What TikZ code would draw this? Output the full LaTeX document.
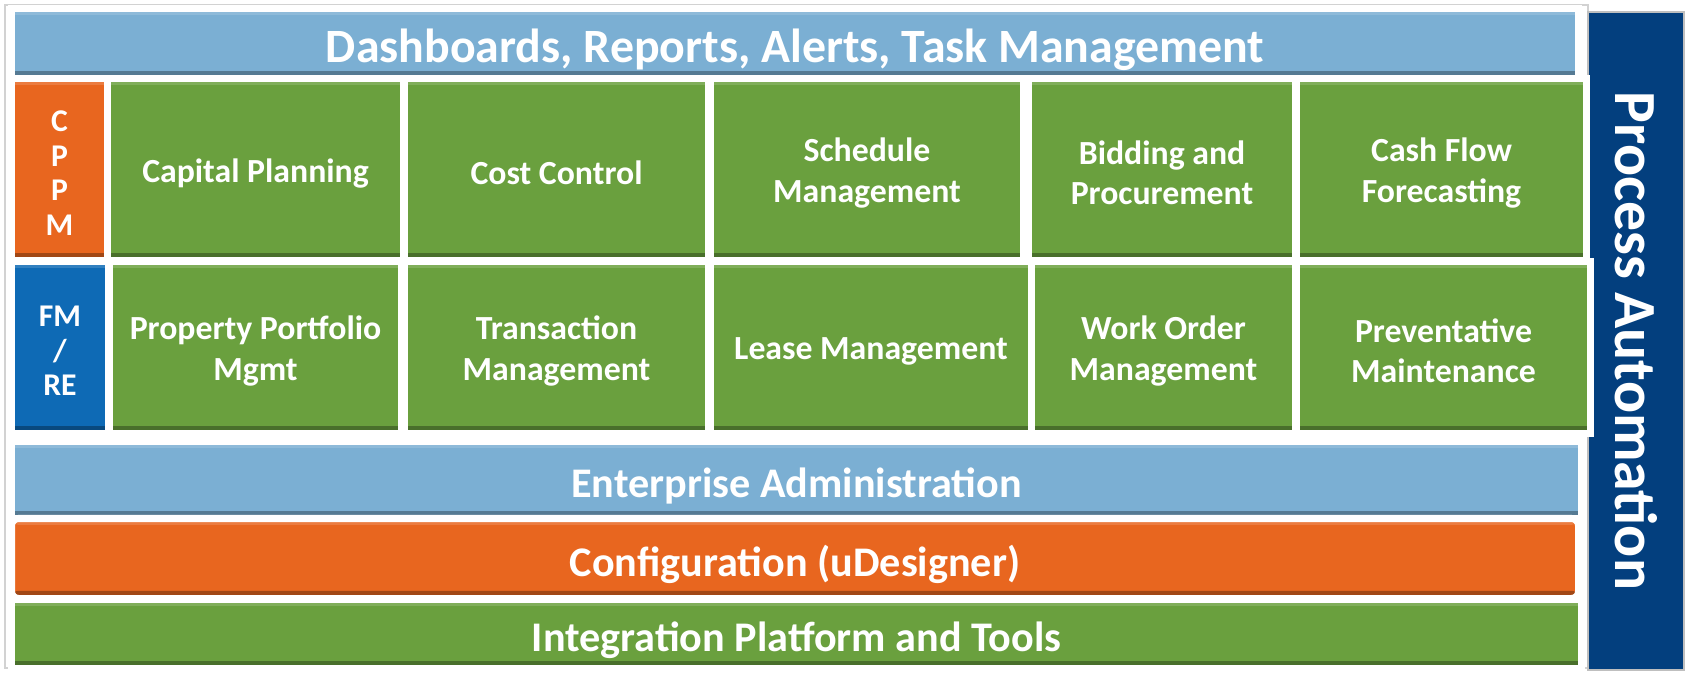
\documentclass[tikz,border=0pt]{standalone}
\usepackage{fontspec}
\setmainfont{Carlito}
\usetikzlibrary{fit}
\definecolor{modgreen}{HTML}{6AA03E}
\definecolor{modorange}{HTML}{E8661F}
\definecolor{modblue}{HTML}{0E6AB5}
\definecolor{layerblue}{HTML}{7BAFD3}
\definecolor{navy}{HTML}{033F7E}
\tikzstyle{frame}=[draw=gray!35, fill=white, line width=0.6pt, inner sep=0]
\tikzstyle{box}=[draw=white, line width=2pt, inner sep=1pt,
  path picture={
    \fill[black, opacity=0.3] (path picture bounding box.south west) rectangle ([yshift=2.2pt]path picture bounding box.south east);
    \fill[white, opacity=0.15] (path picture bounding box.north west) rectangle ([yshift=-1.8pt]path picture bounding box.north east);
  }]
\tikzstyle{boxtext}=[text=white, align=center, inner sep=0]
\tikzstyle{module}=[box, fill=modgreen]
\tikzstyle{modtext}=[boxtext, yshift=-1pt, font=\bfseries\fontsize{9.6}{11.5}\selectfont]
\tikzstyle{tagtext}=[boxtext, yshift=-1pt, font=\bfseries\fontsize{9}{9.8}\selectfont]
\tikzstyle{layertext}=[boxtext, yshift=-1.8pt, font=\bfseries\fontsize{12}{14}\selectfont]
\begin{document}
\begin{tikzpicture}[x=0.01cm, y=-0.01cm]
  \useasboundingbox (0,0) rectangle (1686,673);

  \node[frame, fit={(5,5) (1588,668)}] (frame) {};
  \node[draw=gray!50, fill=navy, text=white, inner sep=0, rotate=-90,
    minimum width=6.58cm, minimum height=0.96cm,
    font=\bfseries\fontsize{17}{19}\selectfont] (procauto) at (1636,341) {Process Automation};

  % layers
  \node[box, fill=layerblue, fit={(15,12) (1575,75)},
    label={[layertext, font=\bfseries\fontsize{13.6}{15}\selectfont]center:{Dashboards, Reports, Alerts, Task Management}}] (dash) {};
  \node[box, fill=layerblue, fit={(15,445) (1578,515)},
    label={[layertext]center:Enterprise Administration}] (entadmin) {};
  \node[box, fill=modorange, rounded corners=2pt, fit={(15,522) (1575,595)},
    label={[layertext]center:Configuration (uDesigner)}] (config) {};
  \node[box, fill=modgreen, fit={(15,603) (1578,665)},
    label={[layertext]center:Integration Platform and Tools}] (integ) {};

  % CPPM row
  \node[box, fill=modorange, fit={(15,82) (104,257)}, label={[tagtext]center:{C\\P\\P\\M}}] (cppm) {};
  \node[module, fit={(111,82) (400,257)}, label={[modtext]center:Capital Planning}] (capplan) {};
  \node[module, fit={(408,82) (705,257)}, label={[modtext]center:Cost Control}] (costctl) {};
  \node[module, fit={(714,82) (1020,257)}, label={[modtext]center:{Schedule\\Management}}] (sched) {};
  \node[module, fit={(1032,82) (1292,257)}, label={[modtext]center:{Bidding and\\Procurement}}] (bidding) {};
  \node[module, fit={(1300,82) (1583,257)}, label={[modtext]center:{Cash Flow\\Forecasting}}] (cashflow) {};

  % FM/RE row
  \node[box, fill=modblue, fit={(15,265) (105,430)}, label={[tagtext]center:{FM\\/\\RE}}] (fmre) {};
  \node[module, fit={(113,265) (398,430)}, label={[modtext]center:{Property Portfolio\\Mgmt}}] (property) {};
  \node[module, fit={(408,265) (705,430)}, label={[modtext]center:{Transaction\\Management}}] (transact) {};
  \node[module, fit={(714,265) (1028,430)}, label={[modtext]center:Lease Management}] (lease) {};
  \node[module, fit={(1035,265) (1292,430)}, label={[modtext]center:{Work Order\\Management}}] (workorder) {};
  \node[module, fit={(1300,265) (1587,430)}, label={[modtext]center:{Preventative\\Maintenance}}] (prevent) {};
\end{tikzpicture}
\end{document}
